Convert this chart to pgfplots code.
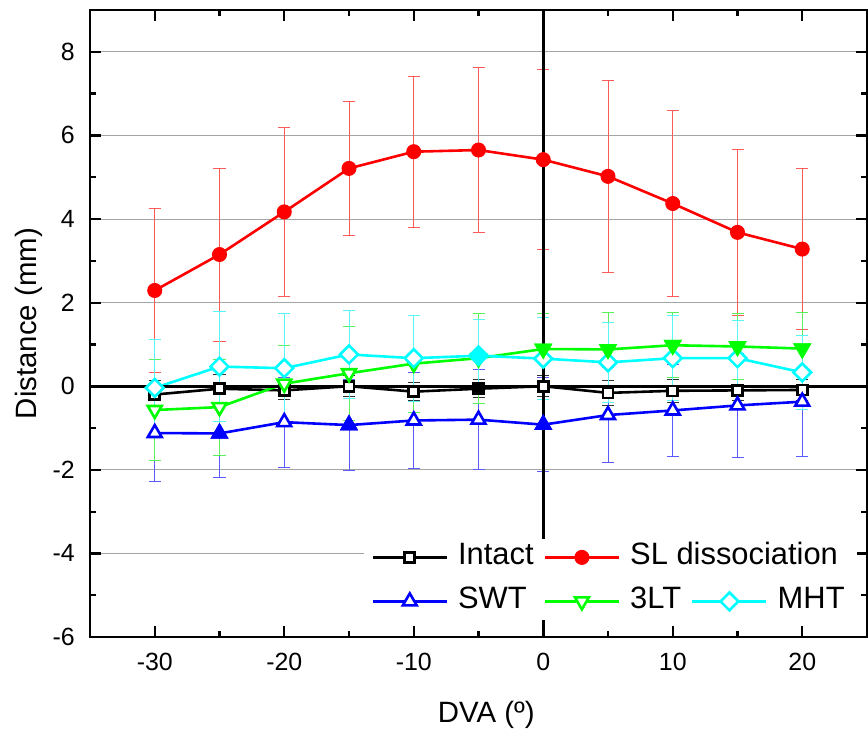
\documentclass[border=0pt]{standalone}
\usepackage{fontspec}
\setmainfont{Liberation Sans}
\usepackage{pgfplots}
\pgfplotsset{compat=1.18}
\usepackage{pgfplotstable}

\definecolor{cGreen}{RGB}{0,255,0}
\definecolor{cCyan}{RGB}{0,255,255}
\definecolor{eRed}{RGB}{255,90,90}
\definecolor{eBlue}{RGB}{90,90,255}
\definecolor{eGreen}{RGB}{90,240,90}
\definecolor{eCyan}{RGB}{90,245,245}
\definecolor{eBlack}{RGB}{50,50,50}
\definecolor{gridgray}{RGB}{165,165,165}

\pgfplotstableread{
x y e
-30 -0.20 0.33
-25 -0.06 0.33
-20 -0.10 0.23
-15 0.00 0.25
-10 -0.13 0.22
-5 -0.06 0.22
0 0.00 0.25
5 -0.16 0.30
10 -0.11 0.27
15 -0.10 0.25
20 -0.09 0.25
}\intact

\pgfplotstableread{
x y e
-30 2.29 1.97
-25 3.15 2.07
-20 4.17 2.02
-15 5.21 1.60
-10 5.61 1.81
-5 5.65 1.97
0 5.42 2.16
5 5.02 2.30
10 4.37 2.22
15 3.68 1.99
20 3.28 1.93
}\sld

\pgfplotstableread{
x y e
-30 -1.12 1.15
-25 -1.13 1.06
-20 -0.86 1.08
-15 -0.93 1.08
-10 -0.82 1.14
-5 -0.80 1.19
0 -0.92 1.12
5 -0.69 1.13
10 -0.58 1.10
15 -0.46 1.25
20 -0.37 1.30
}\swt

\pgfplotstableread{
x y e
-30 -0.57 1.21
-25 -0.50 1.15
-20 0.06 0.91
-15 0.31 1.13
-10 0.54 1.16
-5 0.67 1.08
0 0.89 0.86
5 0.88 0.88
10 0.98 0.78
15 0.95 0.80
20 0.90 0.87
}\tlt

\pgfplotstableread{
x y e
-30 -0.04 1.16
-25 0.47 1.32
-20 0.43 1.31
-15 0.76 1.05
-10 0.67 1.03
-5 0.73 0.86
0 0.66 0.99
5 0.57 0.95
10 0.67 1.01
15 0.67 0.89
20 0.33 0.88
}\mht

\begin{document}
\begin{tikzpicture}
\begin{axis}[
  name=ax,
  scale only axis, width=777bp, height=627bp,
  xmin=-35, xmax=25, ymin=-6, ymax=9,
  xtick={-30,-20,...,20}, ytick={-6,-4,...,8},
  minor x tick num=1, minor y tick num=1,
  tick align=inside,
  major tick length=11bp, minor tick length=6bp,
  every tick/.style={black, line width=2.2bp},
  axis line style={line width=2.7bp},
  ymajorgrids, major grid style={gridgray, line width=1bp},
  /pgf/number format/assume math mode=true,
  tick label style={font=\fontsize{25}{30}\selectfont},
  xticklabel style={anchor=north, inner sep=0pt, yshift=-16bp},
  yticklabel style={anchor=east, inner sep=0pt, xshift=-15bp},
  xlabel={DVA (º)}, ylabel={Distance (mm)},
  label style={font=\fontsize{29.5}{34}\selectfont},
  xlabel style={at={([yshift=-85bp]axis description cs:0.51,0)}, anchor=base},
  ylabel style={at={([xshift=-53bp]axis description cs:0,0.5)}, anchor=base},
  legend columns=3,
  legend cell align=left,
  legend style={at={(axis description cs:0.353,0.027)}, anchor=south west,
    draw=none, fill=white, font=\fontsize{31}{36}\selectfont,
    column sep=5bp, row sep=15bp, inner xsep=7bp, inner ysep=4bp,
    nodes={inner xsep=5bp, inner ysep=0pt, text height=22bp, text depth=7bp}},
  legend image code/.code={\draw[mark repeat=2,mark phase=2] plot coordinates {(0bp,0bp) (37bp,0bp) (74bp,0bp)};},
  every axis plot/.append style={line width=2.6bp},
]
\addplot[black, mark=square*, mark size=5bp, mark options={fill=white, line width=2.6bp},
  error bars/.cd, y dir=both, y explicit,
  error bar style={line width=1bp, eBlack},
  error mark options={rotate=90, mark size=6bp, line width=1bp, eBlack}]
  table[x=x, y=y, y error=e] {\intact};
\addlegendentry{Intact}
\addplot[red, mark=*, mark size=7bp, mark options={fill=red, line width=1bp},
  error bars/.cd, y dir=both, y explicit,
  error bar style={line width=1bp, eRed},
  error mark options={rotate=90, mark size=6bp, line width=1bp, eRed}]
  table[x=x, y=y, y error=e] {\sld};
\addlegendentry{\rlap{SL dissociation}}
\addlegendimage{empty legend}
\addlegendentry{}
\addplot[blue, mark=triangle*, mark size=8bp, mark options={fill=white, line width=2.6bp},
  error bars/.cd, y dir=both, y explicit,
  error bar style={line width=1bp, eBlue},
  error mark options={rotate=90, mark size=6bp, line width=1bp, eBlue}]
  table[x=x, y=y, y error=e] {\swt};
\addlegendentry{SWT}
\addplot[cGreen, mark=triangle*, mark size=8bp, mark options={rotate=180, fill=white, line width=2.6bp},
  error bars/.cd, y dir=both, y explicit,
  error bar style={line width=1bp, eGreen},
  error mark options={rotate=90, mark size=6bp, line width=1bp, eGreen}]
  table[x=x, y=y, y error=e] {\tlt};
\addlegendentry{3LT}
\addplot[cCyan, mark=square*, mark size=6.3bp, mark options={rotate=45, fill=white, line width=2.6bp},
  error bars/.cd, y dir=both, y explicit,
  error bar style={line width=1bp, eCyan},
  error mark options={rotate=90, mark size=6bp, line width=1bp, eCyan}]
  table[x=x, y=y, y error=e] {\mht};
\addlegendentry{MHT}
% markers that appear filled in the original
\addplot[forget plot, only marks, black, mark=square*, mark size=5bp, mark options={fill=black, line width=2.6bp}]
  coordinates {(-5,-0.06)};
\addplot[forget plot, only marks, blue, mark=triangle*, mark size=8bp, mark options={fill=blue, line width=2.6bp}]
  coordinates {(-25,-1.13) (-15,-0.93) (0,-0.92)};
\addplot[forget plot, only marks, cGreen, mark=triangle*, mark size=8bp, mark options={rotate=180, fill=cGreen, line width=2.6bp}]
  coordinates {(0,0.89) (5,0.88) (10,0.98) (15,0.95) (20,0.90)};
\addplot[forget plot, only marks, cCyan, mark=square*, mark size=6.3bp, mark options={rotate=45, fill=cCyan, line width=2.6bp}]
  coordinates {(-5,0.73)};
\draw[black, line width=2.7bp] (axis cs:-35,0) -- (axis cs:25,0);
\draw[black, line width=2.7bp] (axis cs:0,-6) -- (axis cs:0,9);
\end{axis}
\pgfresetboundingbox
\path ([shift={(-90bp,-98bp)}]ax.south west) rectangle ([shift={(1bp,10bp)}]ax.north east);
\end{tikzpicture}
\end{document}
